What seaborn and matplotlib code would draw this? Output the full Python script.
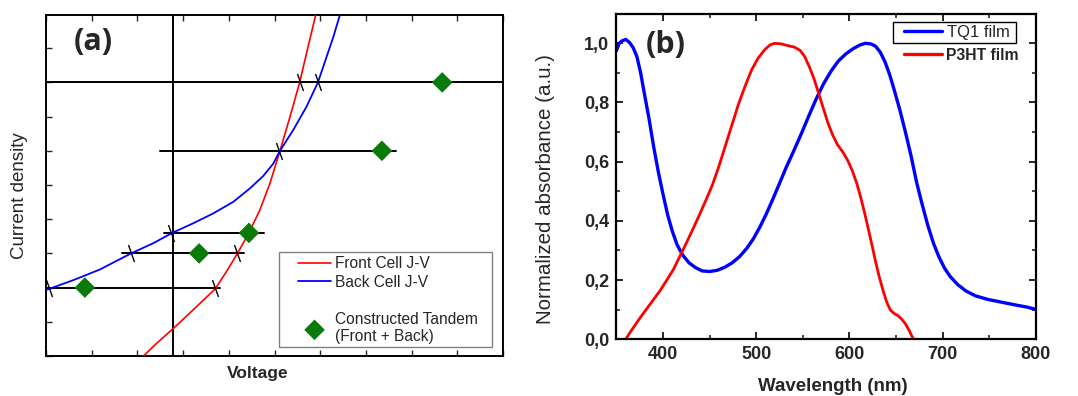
import numpy as np
import pandas as pd
import matplotlib
matplotlib.use("Agg")
import matplotlib.pyplot as plt
import seaborn as sns
from matplotlib.lines import Line2D
from matplotlib.patches import Rectangle
from matplotlib.ticker import MultipleLocator, FuncFormatter

# ---------------- Panel (a): J-V construction (arbitrary units) ----------------
front_v = [2.13, 2.42, 2.79, 3.22, 3.70, 3.95, 4.18, 4.44, 4.68, 4.90, 5.12, 5.34, 5.55, 5.70, 5.90]
front_j = [0.00, 0.37, 0.81, 1.35, 1.96, 2.47, 2.98, 3.60, 4.27, 5.05, 6.00, 7.00, 8.00, 8.85, 9.97]
back_v = [0.00, 0.60, 1.18, 1.86, 2.35, 2.76, 3.22, 3.66, 4.10, 4.46, 4.75, 4.97, 5.12, 5.41,
          5.70, 5.95, 6.14, 6.29, 6.43]
back_j = [1.93, 2.22, 2.53, 3.00, 3.30, 3.60, 3.88, 4.17, 4.51, 4.90, 5.26, 5.62, 6.00, 6.61,
          7.29, 8.00, 8.75, 9.34, 9.97]
tandem_v = [8.67, 7.35, 4.44, 3.35, 0.85]
tandem_j = [8.00, 6.00, 3.60, 3.00, 2.00]
level_j = [8.00, 6.00, 3.60, 3.00, 2.00]
level_vmin = [0.00, 2.49, 2.58, 1.66, 0.00]
level_vmax = [10.0, 7.66, 4.77, 4.33, 3.81]
cross_v = [5.55, 5.95, 5.10, 2.74, 1.86, 4.18, 0.07, 3.70]
cross_j = [8.00, 8.00, 6.00, 3.60, 3.00, 3.00, 2.00, 2.00]
v_zero = 2.78

# ---------------- Panel (b): absorbance spectra ----------------
tq1_wl = [350, 353, 356, 360, 364, 368, 372, 376, 380, 385, 390, 395, 400, 405, 410, 415,
          421, 428, 435, 442, 450, 458, 466, 474, 482, 490, 497, 504, 511, 518, 525, 532,
          540, 548, 556, 564, 572, 580, 588, 596, 604, 611, 617, 623, 628, 633, 638, 643,
          648, 654, 660, 666, 672, 678, 684, 690, 696, 702, 708, 716, 725, 735, 748, 762,
          778, 790, 800]
tq1_abs = [0.975, 1.000, 1.008, 1.013, 1.003, 0.985, 0.955, 0.900, 0.830, 0.745, 0.650,
           0.565, 0.490, 0.420, 0.365, 0.320, 0.285, 0.258, 0.242, 0.231, 0.229, 0.233,
           0.243, 0.258, 0.279, 0.308, 0.340, 0.380, 0.425, 0.475, 0.527, 0.580, 0.635,
           0.692, 0.752, 0.810, 0.862, 0.905, 0.940, 0.964, 0.982, 0.994, 1.000, 0.998,
           0.990, 0.970, 0.938, 0.895, 0.842, 0.775, 0.700, 0.620, 0.530, 0.455, 0.385,
           0.325, 0.278, 0.240, 0.212, 0.185, 0.163, 0.147, 0.135, 0.126, 0.116, 0.109,
           0.101]
p3ht_wl = [360, 365, 370, 376, 383, 390, 397, 404, 411, 418, 425, 432, 439, 446, 453, 460,
           467, 474, 481, 488, 495, 502, 509, 515, 520, 527, 534, 541, 547, 552, 557, 562,
           567, 572, 577, 582, 587, 593, 598, 603, 608, 612, 616, 620, 624, 628, 632, 636,
           640, 644, 648, 652, 656, 660, 664, 667, 669]
p3ht_abs = [0.000, 0.025, 0.048, 0.075, 0.105, 0.135, 0.165, 0.200, 0.235, 0.280, 0.325,
            0.372, 0.420, 0.470, 0.522, 0.585, 0.655, 0.725, 0.795, 0.855, 0.910, 0.950,
            0.978, 0.995, 1.000, 0.998, 0.992, 0.987, 0.976, 0.955, 0.920, 0.880, 0.830,
            0.780, 0.730, 0.690, 0.658, 0.632, 0.605, 0.570, 0.525, 0.480, 0.430, 0.375,
            0.320, 0.262, 0.210, 0.165, 0.125, 0.098, 0.087, 0.080, 0.068, 0.052, 0.030,
            0.010, 0.000]

sns.set_theme(style="ticks")
plt.rcParams['font.family'] = ['Liberation Sans', 'DejaVu Sans']

fig = plt.figure(figsize=(10.78, 3.96), dpi=100)
ax1 = fig.add_axes([0.0427, 0.101, 0.4239, 0.861])
ax2 = fig.add_axes([0.5718, 0.1432, 0.3892, 0.8222])

# ---- panel (a)
for j, a, b in zip(level_j, level_vmin, level_vmax):
    ax1.plot([a, b], [j, j], color='black', lw=1.4, zorder=2)
ax1.axvline(v_zero, color='black', lw=1.4, zorder=2)

df_f = pd.DataFrame({'V': front_v, 'J': front_j})
df_b = pd.DataFrame({'V': back_v, 'J': back_j})
sns.lineplot(data=df_f, x='V', y='J', ax=ax1, color='red', lw=1.2, sort=False,
             label='Front Cell J-V', zorder=3)
sns.lineplot(data=df_b, x='V', y='J', ax=ax1, color='blue', lw=1.3, sort=False,
             label='Back Cell J-V', zorder=3)
slash = [(-0.35, 1.0), (0.35, -1.0)]
ax1.scatter(cross_v, cross_j, marker=slash, s=150, color='black', linewidths=1.0, zorder=4)
df_t = pd.DataFrame({'V': tandem_v, 'J': tandem_j})
sns.scatterplot(data=df_t, x='V', y='J', ax=ax1, marker='D', s=110, color='#0a7a0a',
                edgecolor='none', label='Constructed Tandem\n(Front + Back)', zorder=5)

ax1.set_xlim(0, 10)
ax1.set_ylim(0, 9.97)
ax1.xaxis.set_major_locator(MultipleLocator(1))
ax1.yaxis.set_major_locator(MultipleLocator(1))
ax1.tick_params(direction='in', length=4, width=1, top=True, right=False,
                labelbottom=False, labelleft=False)
for s in ax1.spines.values():
    s.set_linewidth(1.4)
    s.set_color('black')
ax1.set_xlabel('Voltage', fontsize=12.5, fontweight='bold')
ax1.xaxis.set_label_coords(0.464, -0.029)
ax1.set_ylabel('Current density', fontsize=13.5)
ax1.yaxis.set_label_coords(-0.039, 0.469)
ax1.text(0.06, 0.92, '(a)', transform=ax1.transAxes, fontsize=22, fontweight='bold',
         family=['Open Sans', 'DejaVu Sans'], va='center', ha='left')

h, l = ax1.get_legend_handles_labels()
blank = Line2D([], [], color='none')
hmap = dict(zip(l, h))
handles = [hmap['Front Cell J-V'], hmap['Back Cell J-V'], blank,
           hmap['Constructed Tandem\n(Front + Back)']]
labels = ['Front Cell J-V', 'Back Cell J-V', '', 'Constructed Tandem\n(Front + Back)']
box1 = Rectangle((0.510, 0.0264), 0.466, 0.2786, transform=ax1.transAxes,
                 facecolor='white', edgecolor='#808080', lw=1.0, zorder=6)
ax1.add_patch(box1)
leg1 = ax1.legend(handles, labels, loc='upper left', bbox_to_anchor=(0.551, 0.292),
                  fontsize=11.2, frameon=False, handlelength=2.15, labelspacing=0.22,
                  borderpad=0, borderaxespad=0, handletextpad=0.25)
leg1.set_zorder(7)

# ---- panel (b)
df_tq = pd.DataFrame({'wl': tq1_wl, 'abs': tq1_abs})
df_p3 = pd.DataFrame({'wl': p3ht_wl, 'abs': p3ht_abs})
sns.lineplot(data=df_tq, x='wl', y='abs', ax=ax2, color='blue', lw=2.4, sort=False,
             legend=False)
sns.lineplot(data=df_p3, x='wl', y='abs', ax=ax2, color='red', lw=2.0, sort=False,
             legend=False)
ax2.set_xlim(350, 800)
ax2.set_ylim(0, 1.1)
ax2.xaxis.set_major_locator(MultipleLocator(100))
ax2.xaxis.set_minor_locator(MultipleLocator(50))
ax2.yaxis.set_major_locator(MultipleLocator(0.2))
ax2.yaxis.set_minor_locator(MultipleLocator(0.1))
ax2.yaxis.set_major_formatter(FuncFormatter(lambda v, p: f'{v:.1f}'.replace('.', ',')))
ax2.tick_params(which='major', direction='in', length=5, width=1.4, top=True, right=True,
                labelsize=13, pad=5)
ax2.tick_params(which='minor', direction='in', length=3, width=1.2, top=True, right=True)
for lab in ax2.get_xticklabels() + ax2.get_yticklabels():
    lab.set_fontweight('bold')
for s in ax2.spines.values():
    s.set_linewidth(1.6)
    s.set_color('black')
ax2.set_xlabel('Wavelength (nm)', fontsize=13.5, fontweight='bold')
ax2.xaxis.set_label_coords(0.516, -0.119)
ax2.set_ylabel('Normalized absorbance (a.u.)', fontsize=14.8)
ax2.yaxis.set_label_coords(-0.146, 0.4616)
ax2.text(0.07, 0.905, '(b)', transform=ax2.transAxes, fontsize=22, fontweight='bold',
         family=['Open Sans', 'DejaVu Sans'], va='center', ha='left')

box2 = Rectangle((0.659, 0.910), 0.293, 0.0645, transform=ax2.transAxes,
                 facecolor='white', edgecolor='black', lw=1.0, zorder=6)
ax2.add_patch(box2)
legA = ax2.legend([Line2D([], [], color='blue', lw=2.4)], ['TQ1 film'], loc='center left',
                  bbox_to_anchor=(0.685, 0.942), fontsize=12, frameon=False,
                  handlelength=2.28, borderpad=0, handletextpad=0.3, borderaxespad=0)
legA.set_zorder(7)
ax2.add_artist(legA)
legB = ax2.legend([Line2D([], [], color='red', lw=2.4)], ['P3HT film'], loc='center left',
                  bbox_to_anchor=(0.685, 0.873), frameon=False,
                  prop={'size': 11.3, 'weight': 'bold'}, handlelength=2.42, borderpad=0,
                  handletextpad=0.3, borderaxespad=0)
legB.set_zorder(7)

fig.savefig('out.png', dpi=100)
